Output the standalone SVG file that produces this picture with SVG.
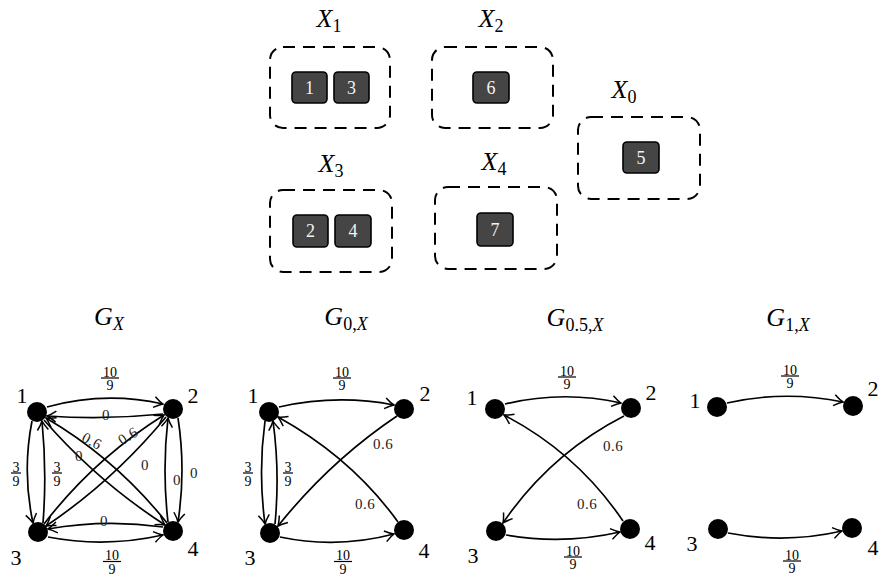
<svg xmlns="http://www.w3.org/2000/svg" width="881" height="578" viewBox="0 0 881 578">
<defs>
<style>
.grp{fill:none;stroke:#000;stroke-width:2;stroke-dasharray:12 8}
.box{fill:#454545;stroke:#000;stroke-width:1.6}
.bt{font-family:"Liberation Serif","DejaVu Serif",serif;font-size:18px;fill:#f2f2f2;text-anchor:middle;dominant-baseline:central}
.math{font-family:"Liberation Serif","DejaVu Serif",serif;font-size:26px;font-style:italic;fill:#000;text-anchor:middle}
.sub{font-size:18px}
.up{font-style:normal}
.e{fill:none;stroke:#000;stroke-width:1.7;marker-end:url(#ah)}
.dot{fill:#000}
.nl{font-family:"Liberation Serif","DejaVu Serif",serif;font-size:22px;fill:#000;text-anchor:middle;dominant-baseline:central}
.el{font-family:"Liberation Serif","DejaVu Serif",serif;font-size:15px;fill:#222;text-anchor:middle;dominant-baseline:central;letter-spacing:0.5px}
.fr{font-family:"Liberation Serif","DejaVu Serif",serif;font-size:14px;fill:#000;text-anchor:middle}
.bar{stroke:#000;stroke-width:1.2}
</style>
<marker id="ah" viewBox="-12 -7 14 14" markerWidth="14" markerHeight="14" refX="0" refY="0" orient="auto" markerUnits="userSpaceOnUse">
<path d="M -9,-5.5 Q -3.5,-1.4 0,0 Q -3.5,1.4 -9,5.5" fill="none" stroke="#000" stroke-width="1.5"/>
</marker>
</defs>

<!-- top groups -->
<g id="X1">
<text class="math" x="329" y="27">X<tspan class="sub up" dy="5">1</tspan></text>
<rect class="grp" x="270" y="47" width="120" height="81" rx="13"/>
<g id="n1"><rect class="box" x="292" y="72" width="35" height="31" rx="4"/><text class="bt" x="309.5" y="88">1</text></g>
<g id="n3"><rect class="box" x="334" y="72" width="35" height="31" rx="4"/><text class="bt" x="351.5" y="88">3</text></g>
</g>
<g id="X2">
<text class="math" x="491" y="27">X<tspan class="sub up" dy="5">2</tspan></text>
<rect class="grp" x="432" y="47" width="121" height="81" rx="13"/>
<g id="n6"><rect class="box" x="473" y="72" width="36" height="31" rx="4"/><text class="bt" x="491" y="88">6</text></g>
</g>
<g id="X0">
<text class="math" x="624" y="98">X<tspan class="sub up" dy="5">0</tspan></text>
<rect class="grp" x="578" y="117" width="122" height="82" rx="13"/>
<g id="n5"><rect class="box" x="623" y="142" width="36" height="31" rx="4"/><text class="bt" x="641" y="158">5</text></g>
</g>
<g id="X3">
<text class="math" x="331" y="172">X<tspan class="sub up" dy="5">3</tspan></text>
<rect class="grp" x="270" y="190" width="122" height="82" rx="13"/>
<g id="n2"><rect class="box" x="293" y="215" width="35" height="32" rx="4"/><text class="bt" x="310.5" y="231">2</text></g>
<g id="n4"><rect class="box" x="335" y="215" width="36" height="32" rx="4"/><text class="bt" x="353" y="231">4</text></g>
</g>
<g id="X4">
<text class="math" x="494" y="170">X<tspan class="sub up" dy="5">4</tspan></text>
<rect class="grp" x="435" y="187" width="122" height="82" rx="13"/>
<g id="n7"><rect class="box" x="477" y="213" width="36" height="33" rx="4"/><text class="bt" x="495" y="229.5">7</text></g>
</g>

<!-- titles -->
<text class="math" x="109" y="325">G<tspan class="sub" dy="5">X</tspan></text>
<text class="math" x="346" y="325">G<tspan class="sub up" dy="5">0,</tspan><tspan class="sub">X</tspan></text>
<text class="math" x="575" y="326">G<tspan class="sub up" dy="5">0.5,</tspan><tspan class="sub">X</tspan></text>
<text class="math" x="788" y="326">G<tspan class="sub up" dy="5">1,</tspan><tspan class="sub">X</tspan></text>

<!-- connectors -->
<g id="connectors">
<!-- G_X -->
<path class="e" d="M47,407 Q105,391 163,404"/>
<path class="e" d="M163,414 Q105,420 47,416"/>
<path class="e" d="M32,421 Q22,472 33,523"/>
<path class="e" d="M43,523 Q47,472 42,421"/>
<path class="e" d="M168,522 Q162,470 168,418"/>
<path class="e" d="M178,418 Q186,470 178,522"/>
<path class="e" d="M163,527 Q105,519 48,529"/>
<path class="e" d="M48,537 Q105,548 163,535"/>
<path class="e" d="M167,523 Q116,459 46,418"/>
<path class="e" d="M44,420 Q97,481 165,525"/>
<path class="e" d="M44,524 Q94,459 164,415"/>
<path class="e" d="M166,417 Q113,481 46,526"/>
<!-- G_0,X -->
<path class="e" d="M279,407 Q337,394 394,405"/>
<path class="e" d="M280,537 Q337,549 394,534"/>
<path class="e" d="M265,421 Q258,472 265,524"/>
<path class="e" d="M275,524 Q280,472 273,421"/>
<path class="e" d="M397,416 Q330,461 278,526"/>
<path class="e" d="M398,522 Q352,458 278,417"/>
<!-- G_0.5,X -->
<path class="e" d="M505,404 Q563,390 621,403"/>
<path class="e" d="M506,535 Q563,545 620,532"/>
<path class="e" d="M624,416 Q550,454 503,523"/>
<path class="e" d="M623,521 Q577,453 504,415"/>
<!-- G_1,X -->
<path class="e" d="M727,403 Q785,390 843,402"/>
<path class="e" d="M728,533 Q785,544 842,531"/>
</g>

<!-- G_X nodes -->
<g id="GX">
<g id="GX1"><circle class="dot" cx="37" cy="412" r="10"/><text class="nl" x="22" y="395">1</text></g>
<g id="GX2"><circle class="dot" cx="173" cy="409" r="10"/><text class="nl" x="193" y="395">2</text></g>
<g id="GX3"><circle class="dot" cx="38" cy="532" r="10"/><text class="nl" x="16" y="557">3</text></g>
<g id="GX4"><circle class="dot" cx="173" cy="531" r="10"/><text class="nl" x="193" y="548">4</text></g>
<g class="fr"><text x="110" y="376.5">10</text><line class="bar" x1="101" y1="378" x2="119" y2="378"/><text x="110" y="390">9</text></g>
<g class="fr"><text x="112" y="560">10</text><line class="bar" x1="103" y1="561.5" x2="121" y2="561.5"/><text x="112" y="573.5">9</text></g>
<g class="fr"><text x="16" y="471.5">3</text><line class="bar" x1="11" y1="473" x2="21" y2="473"/><text x="16" y="486">9</text></g>
<g class="fr"><text x="57" y="471.5">3</text><line class="bar" x1="52" y1="473" x2="62" y2="473"/><text x="57" y="486">9</text></g>
<text class="el" x="106" y="415">0</text>
<text class="el" x="104" y="521">0</text>
<text class="el" x="79" y="456">0</text>
<text class="el" x="145" y="465">0</text>
<text class="el" x="177" y="480">0</text>
<text class="el" x="194" y="473">0</text>
<text class="el" x="92" y="441" transform="rotate(27 92 441)">0.6</text>
<text class="el" x="128" y="436" transform="rotate(-32 128 436)">0.6</text>
</g>

<!-- G_0,X nodes -->
<g id="G0X">
<g id="G0X1"><circle class="dot" cx="269" cy="412" r="10"/><text class="nl" x="253" y="395">1</text></g>
<g id="G0X2"><circle class="dot" cx="404" cy="409" r="10"/><text class="nl" x="425" y="393">2</text></g>
<g id="G0X3"><circle class="dot" cx="270" cy="533" r="10"/><text class="nl" x="250" y="557">3</text></g>
<g id="G0X4"><circle class="dot" cx="404" cy="530" r="10"/><text class="nl" x="424" y="550">4</text></g>
<g class="fr"><text x="342" y="376.5">10</text><line class="bar" x1="333" y1="378" x2="351" y2="378"/><text x="342" y="390">9</text></g>
<g class="fr"><text x="343" y="560">10</text><line class="bar" x1="334" y1="561.5" x2="352" y2="561.5"/><text x="343" y="573.5">9</text></g>
<g class="fr"><text x="248" y="471.5">3</text><line class="bar" x1="243" y1="473" x2="253" y2="473"/><text x="248" y="486">9</text></g>
<g class="fr"><text x="288" y="471.5">3</text><line class="bar" x1="283" y1="473" x2="293" y2="473"/><text x="288" y="486">9</text></g>
<text class="el" x="383" y="444">0.6</text>
<text class="el" x="365" y="504">0.6</text>
</g>

<!-- G_0.5,X nodes -->
<g id="G05X">
<g id="G05X1"><circle class="dot" cx="495" cy="409" r="10"/><text class="nl" x="472" y="397">1</text></g>
<g id="G05X2"><circle class="dot" cx="631" cy="408" r="10"/><text class="nl" x="651" y="392">2</text></g>
<g id="G05X3"><circle class="dot" cx="496" cy="531" r="10"/><text class="nl" x="473" y="555">3</text></g>
<g id="G05X4"><circle class="dot" cx="630" cy="529" r="10"/><text class="nl" x="650" y="542">4</text></g>
<g class="fr"><text x="567" y="375.5">10</text><line class="bar" x1="558" y1="377" x2="576" y2="377"/><text x="567" y="389">9</text></g>
<g class="fr"><text x="573" y="555.5">10</text><line class="bar" x1="564" y1="557" x2="582" y2="557"/><text x="573" y="569">9</text></g>
<text class="el" x="613" y="446">0.6</text>
<text class="el" x="587" y="504">0.6</text>
</g>

<!-- G_1,X nodes -->
<g id="G1X">
<g id="G1X1"><circle class="dot" cx="717" cy="407" r="10"/><text class="nl" x="695" y="400">1</text></g>
<g id="G1X2"><circle class="dot" cx="853" cy="406" r="10"/><text class="nl" x="873" y="388">2</text></g>
<g id="G1X3"><circle class="dot" cx="718" cy="529" r="10"/><text class="nl" x="692" y="543">3</text></g>
<g id="G1X4"><circle class="dot" cx="852" cy="528" r="10"/><text class="nl" x="873" y="547">4</text></g>
<g class="fr"><text x="790" y="374.5">10</text><line class="bar" x1="781" y1="376" x2="799" y2="376"/><text x="790" y="388">9</text></g>
<g class="fr"><text x="792" y="559.5">10</text><line class="bar" x1="783" y1="561" x2="801" y2="561"/><text x="792" y="573">9</text></g>
</g>
</svg>
